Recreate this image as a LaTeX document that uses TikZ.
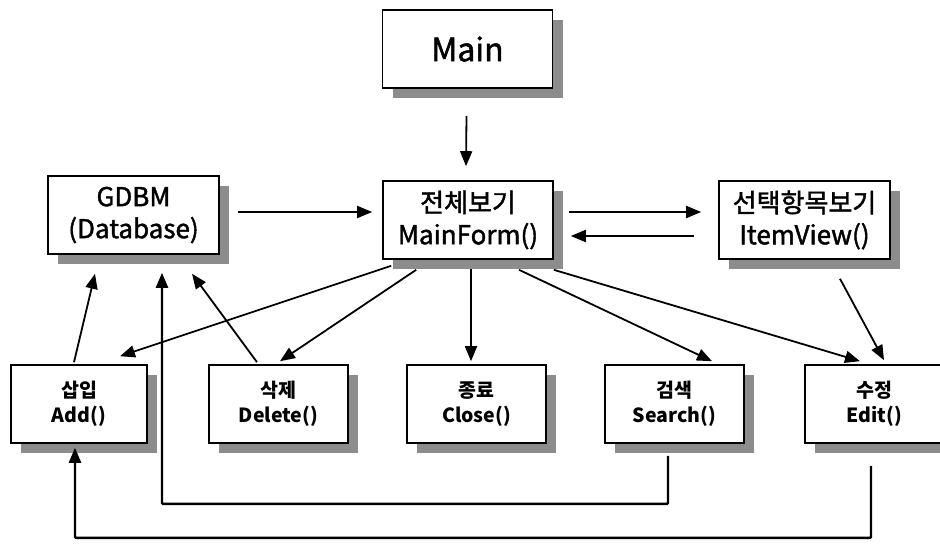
\documentclass[tikz,border=0pt]{standalone}
\usepackage{fontspec}
\setmainfont{Noto Sans CJK KR}
\newfontfamily\heavyfont{Noto Sans CJK KR}[FakeBold=1.6]
\usetikzlibrary{arrows.meta,shadows,calc}

\definecolor{shadowgray}{RGB}{140,140,140}

\tikzset{
  box/.style={draw=black, line width=1.6pt, fill=white, rectangle,
    inner sep=0pt, align=center, text=black,
    drop shadow={shadow xshift=10pt, shadow yshift=-10pt,
      fill=shadowgray, opacity=1}},
  bigbox/.style={box, minimum width=170pt, minimum height=78pt,
    font={\heavyfont\fontsize{32}{36}\selectfont}},
  midbox/.style={box, minimum width=171pt, minimum height=78pt,
    font={\heavyfont\fontsize{26}{32}\selectfont}},
  lowbox/.style={box, minimum width=139pt, minimum height=78pt,
    font={\fontsize{19.5}{25}\selectfont\bfseries}},
  arr/.style={line width=1.8pt, -{Triangle[length=15pt,width=12pt]}},
  loop/.style={arr, line width=2.4pt, rounded corners=1pt}
}

\begin{document}
\begin{tikzpicture}[x=1pt,y=-1pt]
  \useasboundingbox (0,0) rectangle (940,546);

  % top and middle rows
  \node[bigbox] (main) at (467.5,49) {Main};
  \node[midbox] (gdbm) at (133.5,215) {GDBM\\(Database)};
  \node[midbox, minimum width=170pt] (mainform) at (468,220) {전체보기\\MainForm()};
  \node[midbox] (itemview) at (804.5,220) {선택항목보기\\ItemView()};

  % bottom row
  \node[lowbox, minimum width=136pt] (add) at (79,404) {삽입\\Add()};
  \node[lowbox] (del) at (278.5,404) {삭제\\Delete()};
  \node[lowbox] (close) at (476.5,404) {종료\\Close()};
  \node[lowbox] (search) at (674.5,404) {검색\\Search()};
  \node[lowbox] (edit) at (874.5,404) {수정\\Edit()};

  % main flow
  \draw[arr] ([shift={(-1pt,-27pt)}]main.south) -- ([shift={(-2pt,14pt)}]mainform.north);
  \draw[arr] ([shift={(18pt,3pt)}]gdbm.east) -- ([shift={(-10pt,8pt)}]mainform.west);
  \draw[arr] ([shift={(15pt,8pt)}]mainform.east) -- ([shift={(-17pt,8pt)}]itemview.west);
  \draw[arr] ([shift={(-24pt,-16pt)}]itemview.west) -- ([shift={(17pt,-16pt)}]mainform.east);

  % from the main form to the actions
  \draw[arr] ([shift={(9pt,-6pt)}]mainform.south west) -- ([shift={(41pt,8pt)}]add.north);
  \draw[arr] ([shift={(34pt,-10pt)}]mainform.south west) -- ([shift={(1.5pt,3pt)}]del.north);
  \draw[arr] ([shift={(3pt,-9pt)}]mainform.south) -- ([shift={(-5.5pt,3pt)}]close.north);
  \draw[arr] ([shift={(51pt,-10pt)}]mainform.south) -- ([shift={(37.5pt,3pt)}]search.north);
  \draw[arr] ([shift={(0pt,-10pt)}]mainform.south east) -- ([shift={(-14.5pt,3pt)}]edit.north);
  \draw[arr] ([shift={(35.5pt,-19pt)}]itemview.south) -- ([shift={(9.5pt,4pt)}]edit.north);

  % back to the database
  \draw[arr] ([shift={(-5pt,2pt)}]add.north) -- ([shift={(-38.5pt,-19pt)}]gdbm.south);
  \draw[arr] ([shift={(-21.5pt,2pt)}]del.north) -- ([shift={(58.5pt,-19pt)}]gdbm.south);
  \draw[loop] ([shift={(-6.5pt,-12pt)}]search.south) -- ++(0pt,-48pt) -| ([shift={(28.5pt,-18pt)}]gdbm.south);
  \draw[loop] ([shift={(-3.5pt,-22pt)}]edit.south) -- ++(0pt,-72pt) -| ([shift={(-4pt,-4pt)}]add.south);
\end{tikzpicture}
\end{document}
